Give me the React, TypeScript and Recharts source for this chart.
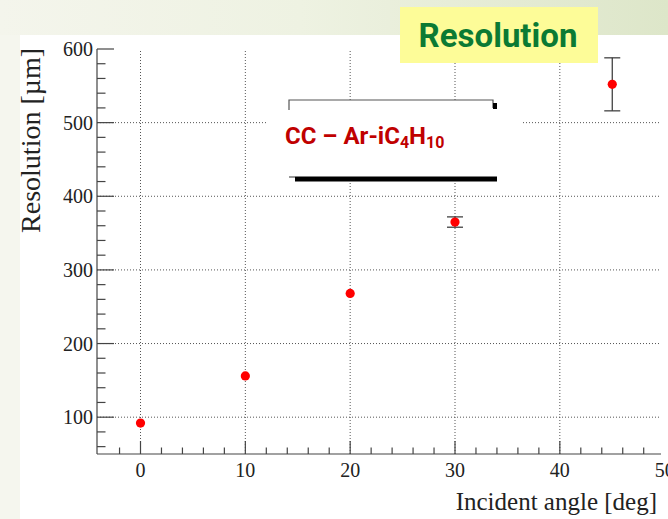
import React from 'react';
import { ScatterChart, Scatter, XAxis, YAxis, ErrorBar, ReferenceLine } from 'recharts';

// resolution vs. incident angle, CC chamber with Ar-iC4H10
// (errors smaller than the marker are left at 0 so no bar is drawn)
const angles = [0, 10, 20, 30, 45];
const resolution = [92, 156, 268, 365, 552];
const resolutionErr = [0, 0, 0, 7, 36];

const xTicks = [-2, 0, 2, 4, 6, 8, 10, 12, 14, 16, 18, 20, 22, 24, 26, 28, 30, 32, 34, 36, 38, 40, 42, 44, 46, 48, 50];
const yTicks = [60, 80, 100, 120, 140, 160, 180, 200, 220, 240, 260, 280, 300, 320, 340, 360, 380, 400, 420, 440, 460, 480, 500, 520, 540, 560, 580, 600];
const xGrid = [0, 10, 20, 30, 40];
const yGrid = [100, 200, 300, 400, 500];
const xDomain = [-4.15, 49.65];
const yDomain = [50, 600];

const data = angles.map((a, i) => ({ angle: a, res: resolution[i], err: resolutionErr[i] }));

const AXIS = '#444';
const LABEL = '#222';
const SERIF = '"Liberation Serif", "DejaVu Serif", serif';
const SANS = 'Roboto, "Liberation Sans", sans-serif';

const isMajorX = (v: number) => v % 10 === 0;
const isMajorY = (v: number) => v % 100 === 0;

// ROOT style: ticks point into the frame, the 50 label sits just past the edge
const BottomTick = (props: any) => {
  const { x, y, payload } = props;
  const major = isMajorX(payload.value);
  const inside = payload.value <= xDomain[1];
  return (
    <g>
      {inside && (
        <line x1={x} x2={x} y1={y} y2={y - (major ? 13 : 6.5)} stroke={AXIS} strokeWidth={1.2} />
      )}
      {major && (
        <text x={x} y={y + 23} textAnchor="middle" fontFamily={SERIF} fontSize={20} fill={LABEL}>
          {payload.value}
        </text>
      )}
    </g>
  );
};

const TopTick = (props: any) => {
  const { x, y, payload } = props;
  if (payload.value > xDomain[1]) return <g />;
  const major = isMajorX(payload.value);
  return <line x1={x} x2={x} y1={y} y2={y + (major ? 13 : 6.5)} stroke={AXIS} strokeWidth={1.2} />;
};

const LeftTick = (props: any) => {
  const { x, y, payload } = props;
  const major = isMajorY(payload.value);
  return (
    <g>
      <line x1={x} x2={x + (major ? 17 : 8.5)} y1={y} y2={y} stroke={AXIS} strokeWidth={1.2} />
      {major && (
        <text x={x - 4} y={y + 7} textAnchor="end" fontFamily={SERIF} fontSize={20} fill={LABEL}>
          {payload.value}
        </text>
      )}
    </g>
  );
};

const RightTick = (props: any) => {
  const { x, y, payload } = props;
  const major = isMajorY(payload.value);
  return <line x1={x} x2={x - (major ? 17 : 8.5)} y1={y} y2={y} stroke={AXIS} strokeWidth={1.2} />;
};

const Dot = (props: any) => <circle cx={props.cx} cy={props.cy} r={4.6} fill="#ff0000" />;

export default function App() {
  return (
    <div
      style={{
        position: 'absolute',
        left: 0,
        top: 0,
        width: 668,
        height: 519,
        overflow: 'hidden',
        background: '#f5f6ee',
      }}
    >
      <div
        style={{
          position: 'absolute',
          left: 0,
          top: 0,
          width: 668,
          height: 35,
          background: 'linear-gradient(90deg, #f4f5ec 0%, #eef2e2 45%, #dde6c9 100%)',
        }}
      />
      <div style={{ position: 'absolute', left: 20, top: 35, width: 648, height: 484, background: '#fff' }} />

      <div style={{ position: 'absolute', left: 0, top: 0 }}>
        <ScatterChart width={668} height={519} margin={{ top: 49, right: 7, bottom: 0, left: 0 }}>
          <XAxis
            xAxisId="b"
            type="number"
            dataKey="angle"
            domain={xDomain}
            allowDataOverflow
            ticks={xTicks}
            interval={0}
            height={65}
            tickSize={0}
            tickMargin={0}
            tick={<BottomTick />}
            axisLine={{ stroke: AXIS, strokeWidth: 1.2 }}
          />
          <XAxis
            xAxisId="t"
            orientation="top"
            type="number"
            domain={xDomain}
            allowDataOverflow
            ticks={xTicks}
            interval={0}
            height={0}
            tickSize={0}
            tickMargin={0}
            tick={<TopTick />}
            axisLine={{ stroke: AXIS, strokeWidth: 1.2 }}
          />
          <YAxis
            yAxisId="l"
            type="number"
            dataKey="res"
            domain={yDomain}
            allowDataOverflow
            ticks={yTicks}
            interval={0}
            width={97}
            tickSize={0}
            tickMargin={0}
            tick={<LeftTick />}
            axisLine={{ stroke: AXIS, strokeWidth: 1.2 }}
          />
          <YAxis
            yAxisId="r"
            orientation="right"
            type="number"
            domain={yDomain}
            allowDataOverflow
            ticks={yTicks}
            interval={0}
            width={0}
            tickSize={0}
            tickMargin={0}
            tick={<RightTick />}
            axisLine={{ stroke: AXIS, strokeWidth: 1.2 }}
          />
          {xGrid.map((v) => (
            <ReferenceLine key={`gx${v}`} xAxisId="b" yAxisId="l" x={v} stroke="#555" strokeDasharray="1 2" />
          ))}
          {yGrid.map((v) => (
            <ReferenceLine key={`gy${v}`} xAxisId="b" yAxisId="l" y={v} stroke="#555" strokeDasharray="1 2" />
          ))}
          <Scatter xAxisId="b" yAxisId="l" data={data} shape={<Dot />} isAnimationActive={false}>
            <ErrorBar dataKey="err" direction="y" width={8} stroke="#333" strokeWidth={1.2} />
          </Scatter>
        </ScatterChart>
      </div>

      <svg width={668} height={519} style={{ position: 'absolute', left: 0, top: 0, pointerEvents: 'none' }}>
        {/* axis titles */}
        <text x={657} y={510} textAnchor="end" fontFamily={SERIF} fontSize={25} fill={LABEL}>
          Incident angle [deg]
        </text>
        <text
          x={40}
          y={48}
          transform="rotate(-90 40 48)"
          textAnchor="end"
          fontFamily={SERIF}
          fontSize={28}
          fill={LABEL}
        >
          Resolution [µm]
        </text>

        {/* legend box with shadow */}
        <rect x={289} y={100} width={204} height={77} fill="#fff" />
        <path d="M289 112 V100 H493 V108" fill="none" stroke="#555" strokeWidth={1.2} />
        <rect x={493} y={103} width={4} height={6} fill="#000" />
        <line x1={289} x2={295} y1={177} y2={177} stroke="#555" strokeWidth={1.2} />
        <rect x={295} y={176.5} width={202} height={5} fill="#000" />
        <rect x={267} y={110} width={255} height={65} fill="#fff" />
        <text x={285} y={143.5} fontFamily={SANS} fontWeight={700} fontSize={24} fill="#c00000">
          CC – Ar-iC
          <tspan fontSize={16} dy={4}>4</tspan>
          <tspan dy={-4}>H</tspan>
          <tspan fontSize={16} dy={4}>10</tspan>
        </text>

        {/* slide title tag */}
        <rect x={400} y={7} width={198} height={56} fill="#fdfc98" />
        <text x={498} y={47} textAnchor="middle" fontFamily={SANS} fontWeight={700} fontSize={33} fill="#0b7a33">
          Resolution
        </text>
      </svg>
    </div>
  );
}
